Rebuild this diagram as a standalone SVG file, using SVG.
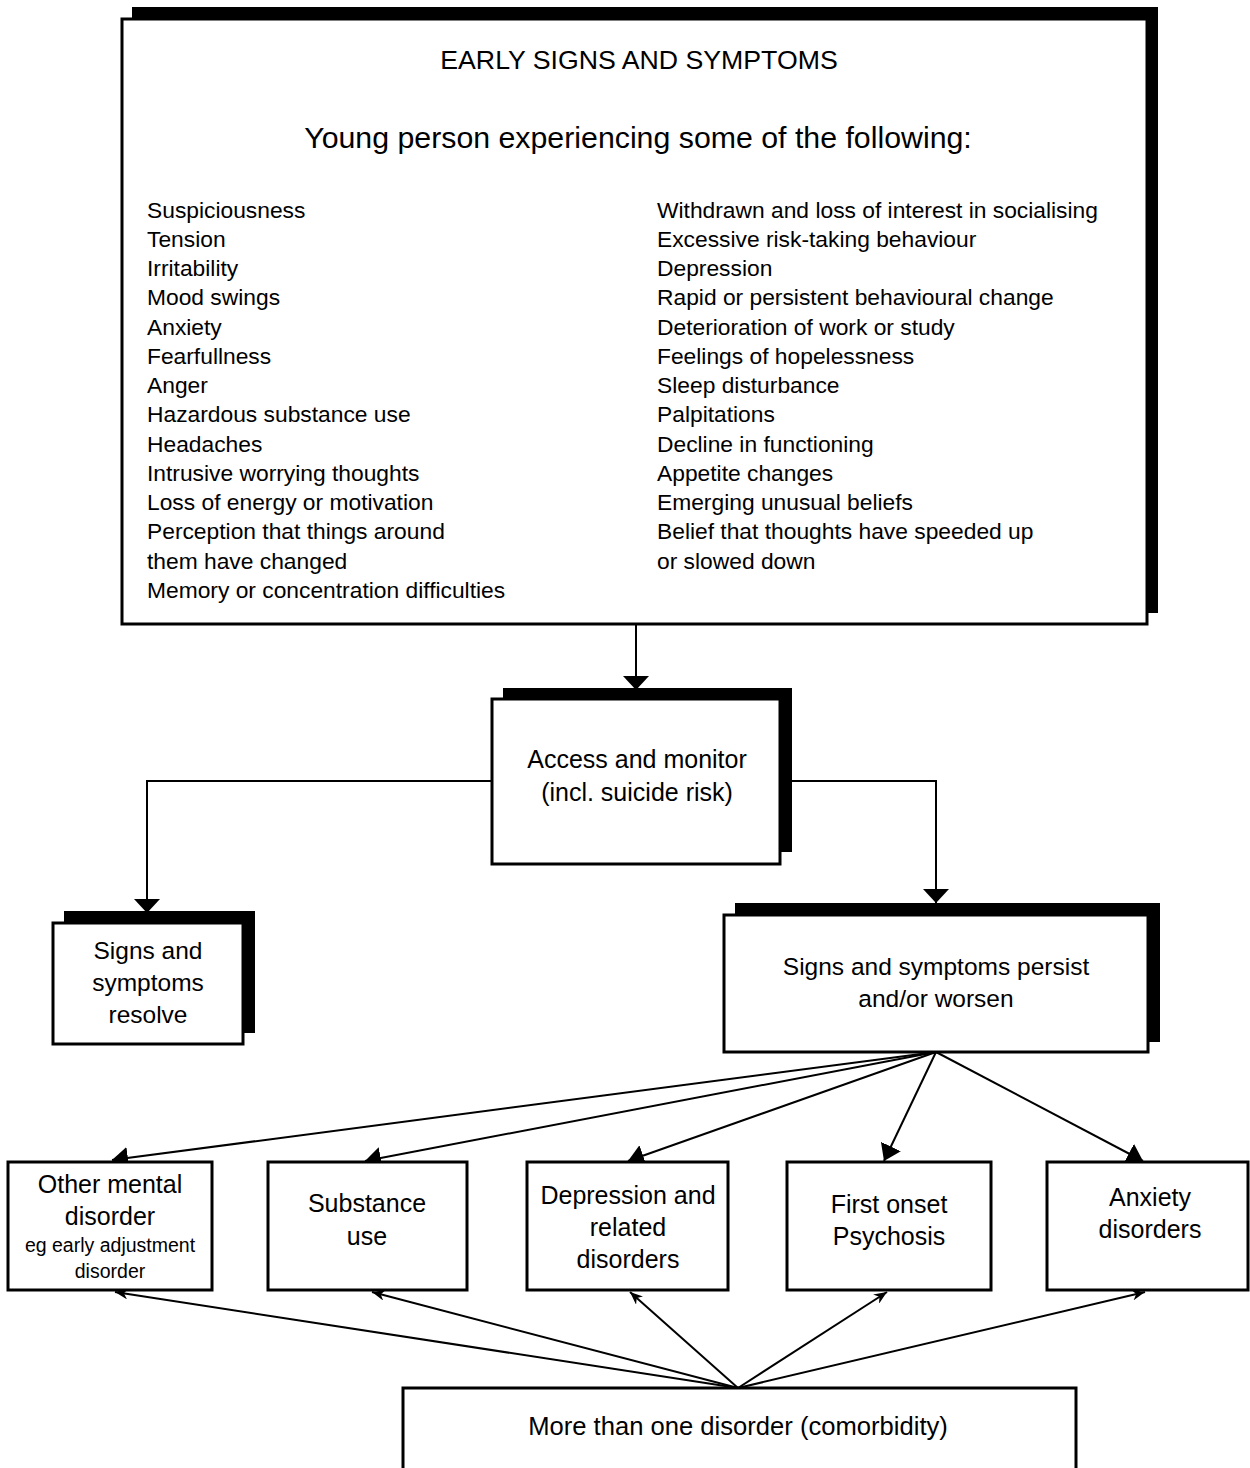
<svg xmlns="http://www.w3.org/2000/svg" width="1250" height="1468" viewBox="0 0 1250 1468">
<style>
.sh{fill:#000}
.bx{fill:#fff;stroke:#000;stroke-width:3}
.t{font-family:"Liberation Sans",Arial,sans-serif;fill:#000}
.c{text-anchor:middle}
.ln{fill:none;stroke:#000;stroke-width:2}
</style>
<defs>
<marker id="big" markerUnits="userSpaceOnUse" viewBox="0 0 14 26" refX="14" refY="13" markerWidth="14" markerHeight="26" orient="auto">
<path d="M0,0 L14,13 L0,26 Z" fill="#000"/>
</marker>
<marker id="fan" markerUnits="userSpaceOnUse" viewBox="0 0 16 22" refX="16" refY="11" markerWidth="16" markerHeight="22" orient="auto">
<path d="M0,0 L16,11 L0,22 Z" fill="#000"/>
</marker>
<marker id="thin" markerUnits="userSpaceOnUse" viewBox="0 0 13 11" refX="13" refY="5.5" markerWidth="13" markerHeight="11" orient="auto">
<path d="M0,0 L13,5.5 L0,11 L4,5.5 Z" fill="#000"/>
</marker>
</defs>

<g id="connectors">
<line class="ln" x1="636" y1="624" x2="636" y2="690" marker-end="url(#big)"/>
<polyline class="ln" points="492,781 147,781 147,913" marker-end="url(#big)"/>
<polyline class="ln" points="792,781 936,781 936,903" marker-end="url(#big)"/>
<line class="ln" x1="936" y1="1052" x2="112" y2="1160" marker-end="url(#fan)"/>
<line class="ln" x1="936" y1="1052" x2="365" y2="1161" marker-end="url(#fan)"/>
<line class="ln" x1="936" y1="1052" x2="628" y2="1161" marker-end="url(#fan)"/>
<line class="ln" x1="936" y1="1052" x2="884" y2="1161" marker-end="url(#fan)"/>
<line class="ln" x1="936" y1="1052" x2="1143" y2="1161" marker-end="url(#fan)"/>
<line class="ln" x1="738" y1="1388" x2="115" y2="1292" marker-end="url(#thin)"/>
<line class="ln" x1="738" y1="1388" x2="372" y2="1292" marker-end="url(#thin)"/>
<line class="ln" x1="738" y1="1388" x2="630" y2="1292" marker-end="url(#thin)"/>
<line class="ln" x1="738" y1="1388" x2="887" y2="1292" marker-end="url(#thin)"/>
<line class="ln" x1="738" y1="1388" x2="1145" y2="1292" marker-end="url(#thin)"/>
</g>

<g id="early-signs">
<rect class="sh" x="132" y="7" width="1026" height="606"/>
<rect class="bx" x="122" y="19" width="1025" height="605"/>
<text class="t c" x="639" y="69" font-size="26.7">EARLY SIGNS AND SYMPTOMS</text>
<text class="t c" x="638" y="148" font-size="30.3">Young person experiencing some of the following:</text>
<g class="t" font-size="22.8">
<text x="147" y="217.7">Suspiciousness</text>
<text x="147" y="246.9">Tension</text>
<text x="147" y="276.2">Irritability</text>
<text x="147" y="305.4">Mood swings</text>
<text x="147" y="334.6">Anxiety</text>
<text x="147" y="363.9">Fearfullness</text>
<text x="147" y="393.1">Anger</text>
<text x="147" y="422.3">Hazardous substance use</text>
<text x="147" y="451.5">Headaches</text>
<text x="147" y="480.8">Intrusive worrying thoughts</text>
<text x="147" y="510.0">Loss of energy or motivation</text>
<text x="147" y="539.2">Perception that things around</text>
<text x="147" y="568.5">them have changed</text>
<text x="147" y="597.7">Memory or concentration difficulties</text>
<text x="657" y="217.7">Withdrawn and loss of interest in socialising</text>
<text x="657" y="246.9">Excessive risk-taking behaviour</text>
<text x="657" y="276.2">Depression</text>
<text x="657" y="305.4">Rapid or persistent behavioural change</text>
<text x="657" y="334.6">Deterioration of work or study</text>
<text x="657" y="363.9">Feelings of hopelessness</text>
<text x="657" y="393.1">Sleep disturbance</text>
<text x="657" y="422.3">Palpitations</text>
<text x="657" y="451.5">Decline in functioning</text>
<text x="657" y="480.8">Appetite changes</text>
<text x="657" y="510.0">Emerging unusual beliefs</text>
<text x="657" y="539.2">Belief that thoughts have speeded up</text>
<text x="657" y="568.5">or slowed down</text>
</g>
</g>

<g id="access">
<rect class="sh" x="503" y="688" width="289" height="164"/>
<rect class="bx" x="492" y="699" width="288" height="165"/>
<text class="t c" x="637" y="768" font-size="25">Access and monitor</text>
<text class="t c" x="637" y="801" font-size="25">(incl. suicide risk)</text>
</g>

<g id="resolve">
<rect class="sh" x="64" y="911" width="191" height="122"/>
<rect class="bx" x="53" y="923" width="190" height="121"/>
<text class="t c" x="148" y="959" font-size="24.5">Signs and</text>
<text class="t c" x="148" y="991" font-size="24.5">symptoms</text>
<text class="t c" x="148" y="1023" font-size="24.5">resolve</text>
</g>

<g id="persist">
<rect class="sh" x="735" y="903" width="425" height="139"/>
<rect class="bx" x="724" y="915" width="424" height="137"/>
<text class="t c" x="936" y="975" font-size="24.5">Signs and symptoms persist</text>
<text class="t c" x="936" y="1007" font-size="24.5">and/or worsen</text>
</g>

<g id="other">
<rect class="bx" x="8" y="1162" width="204" height="128"/>
<text class="t c" x="110" y="1193" font-size="25">Other mental</text>
<text class="t c" x="110" y="1225" font-size="25">disorder</text>
<text class="t c" x="110" y="1252" font-size="19.5">eg early adjustment</text>
<text class="t c" x="110" y="1278" font-size="19.5">disorder</text>
</g>

<g id="substance">
<rect class="bx" x="268" y="1162" width="199" height="128"/>
<text class="t c" x="367" y="1212" font-size="25">Substance</text>
<text class="t c" x="367" y="1245" font-size="25">use</text>
</g>

<g id="depression">
<rect class="bx" x="527" y="1162" width="201" height="128"/>
<text class="t c" x="628" y="1204" font-size="25">Depression and</text>
<text class="t c" x="628" y="1236" font-size="25">related</text>
<text class="t c" x="628" y="1268" font-size="25">disorders</text>
</g>

<g id="psychosis">
<rect class="bx" x="787" y="1162" width="204" height="128"/>
<text class="t c" x="889" y="1213" font-size="25">First onset</text>
<text class="t c" x="889" y="1245" font-size="25">Psychosis</text>
</g>

<g id="anxiety">
<rect class="bx" x="1047" y="1162" width="201" height="128"/>
<text class="t c" x="1150" y="1206" font-size="25">Anxiety</text>
<text class="t c" x="1150" y="1238" font-size="25">disorders</text>
</g>

<g id="comorbidity">
<rect class="bx" x="403" y="1388" width="673" height="100"/>
<text class="t c" x="738" y="1435" font-size="25.6">More than one disorder (comorbidity)</text>
</g>
</svg>
